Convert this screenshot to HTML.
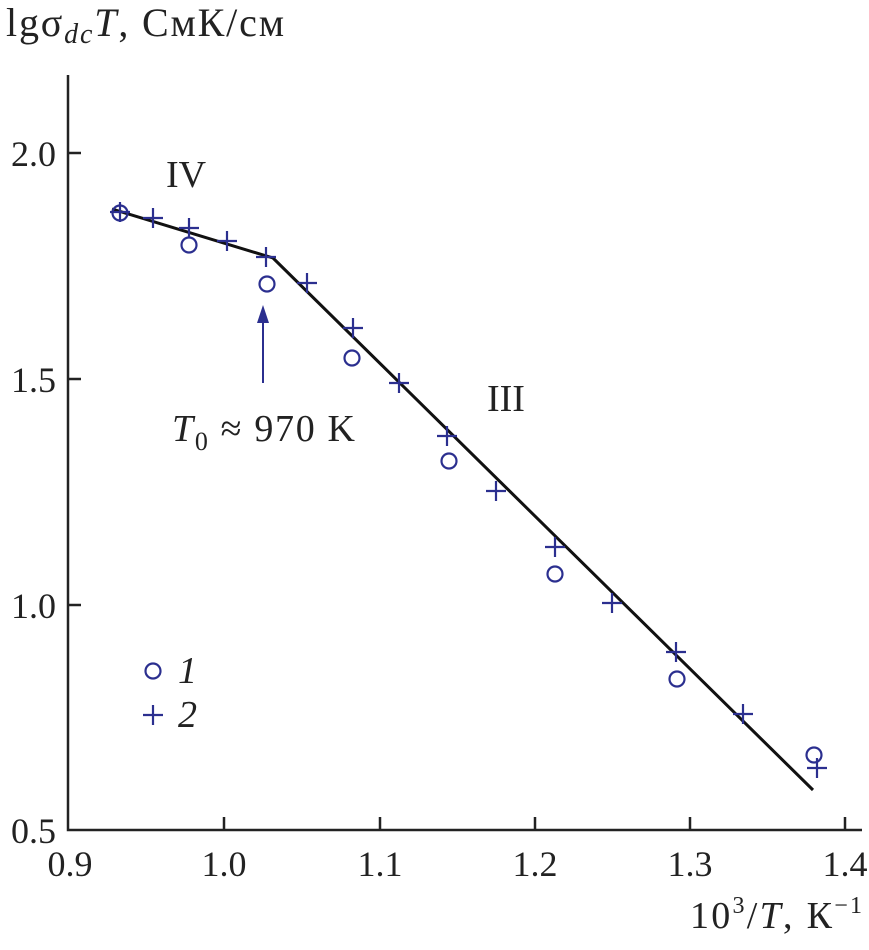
<!DOCTYPE html><html><head><style>body{margin:0;background:#fff}svg text{font-family:"Liberation Serif",serif}</style></head><body>
<svg width="869" height="945" viewBox="0 0 869 945" xmlns="http://www.w3.org/2000/svg">
<g stroke="#222" stroke-width="2.5" fill="none">
<path d="M68 75V830H862"/>
<path d="M68 153h13M68 379h13M68 605h13M224 830v-13M380 830v-13M535 830v-13M690 830v-13M845 830v-13"/>
</g>
<g font-size="36" fill="#222" text-anchor="end">
<text x="56" y="166">2.0</text><text x="56" y="392">1.5</text><text x="56" y="618">1.0</text><text x="56" y="843">0.5</text>
</g>
<g font-size="36" fill="#222" text-anchor="middle">
<text x="70" y="876">0.9</text><text x="224" y="876">1.0</text><text x="380" y="876">1.1</text><text x="535" y="876">1.2</text><text x="690" y="876">1.3</text><text x="845" y="876">1.4</text>
</g>
<text x="6" y="36" font-size="40" fill="#222" textLength="278">lgσ<tspan font-style="italic" font-size="28" dy="7">dc</tspan><tspan font-style="italic" dy="-7">T</tspan>, СмК/см</text>
<text x="690" y="928" font-size="38" fill="#222" textLength="172">10<tspan font-size="24" dy="-15">3</tspan><tspan dy="15">/</tspan><tspan font-style="italic">T</tspan>, К<tspan font-size="24" dy="-15">−1</tspan></text>
<text x="166" y="187" font-size="38" fill="#222">IV</text>
<text x="487" y="411" font-size="38" fill="#222">III</text>
<text x="172" y="441" font-size="38" fill="#222" textLength="183"><tspan font-style="italic">T</tspan><tspan font-size="26" dy="9">0</tspan><tspan dy="-9"> ≈ 970 K</tspan></text>
<path d="M112 209L273 258L813 790" stroke="#111" stroke-width="3" fill="none"/>
<path d="M263 383V318" stroke="#2b2f8f" stroke-width="2"/><path d="M263 305l-6 18h12z" fill="#2b2f8f"/>
<g stroke="#2b2f8f" stroke-width="2.2" fill="none">
<circle cx="120" cy="213" r="7.5"/><circle cx="189" cy="245" r="7.5"/><circle cx="267" cy="284" r="7.5"/><circle cx="352" cy="358" r="7.5"/><circle cx="449" cy="461" r="7.5"/><circle cx="555" cy="574" r="7.5"/><circle cx="677" cy="679" r="7.5"/><circle cx="814" cy="755" r="7.5"/>
<circle cx="153" cy="671" r="7.5"/>
<path d="M110 212h20M120 202v20M143 218h20M153 208v20M179 228h20M189 218v20M217 241h20M227 231v20M256 257h20M266 247v20M297 283h20M307 273v20M343 328h20M353 318v20M389 383h20M399 373v20M437 436h20M447 426v20M486 491h20M496 481v20M545 547h20M555 537v20M602 603h20M612 593v20M666 652h20M676 642v20M733 714h20M743 704v20M807 768h20M817 758v20M143 715h20M153 705v20"/>
</g>
<text x="178" y="683" font-size="38" font-style="italic" fill="#222">1</text>
<text x="178" y="727" font-size="38" font-style="italic" fill="#222">2</text>
</svg></body></html>
